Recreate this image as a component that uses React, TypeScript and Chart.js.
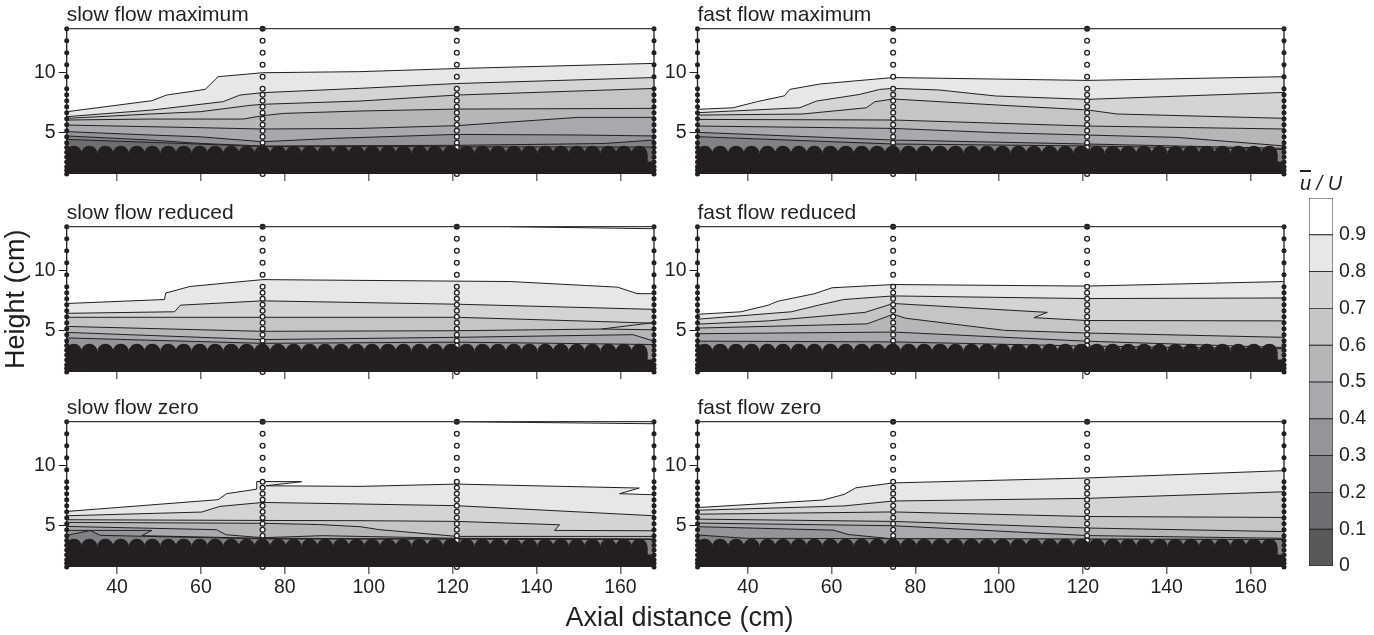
import React, { useEffect, useRef } from 'react';
import { Chart, registerables } from 'chart.js';

Chart.register(...registerables);

const FONT = "'Liberation Sans', Arial, Helvetica, sans-serif";
const INK = '#231f20';

// ---------- data ----------
const X_TICKS = [40, 60, 80, 100, 120, 140, 160];
const Y_TICKS = [5, 10];
const X_RANGE = [28, 168];
const Y_RANGE = [1.56, 13.67];

// colour bar (u/U classes)
const CB_TICKS = [0, 0.1, 0.2, 0.3, 0.4, 0.5, 0.6, 0.7, 0.8, 0.9];
const CB_LABELS = ['0', '0.1', '0.2', '0.3', '0.4', '0.5', '0.6', '0.7', '0.8', '0.9'];
const CB_STEP = 0.1;
const BAND_COLORS = ['#58595b', '#6d6e71', '#808285', '#939598', '#a7a9ac', '#b5b6b8', '#c4c5c7', '#d3d4d5', '#e6e7e8', '#ffffff'];

// measuring stations (cm) and probe heights (cm)
const EDGE_X = [28, 168];
const PROFILE_X = [74.7, 121];
const PROBE_Z = [13.67, 12.67, 11.67, 10.67, 9.67, 8.67, 8.17, 7.67, 7.17, 6.67, 6.17, 5.67, 5.17, 4.67, 4.17, 3.77, 3.37, 2.97, 2.57, 2.17, 1.87, 1.56];

// bed roughness (hemispheres)
const BED_X = [29.7, 33.4, 37.2, 40.9, 44.7, 48.4, 52.2, 55.9, 59.7, 63.4, 67.2, 70.9, 74.6, 78.4, 82.1, 85.9, 89.6, 93.4, 97.1, 100.8, 104.6, 108.3, 112.1, 115.8, 119.6, 123.3, 127.1, 130.8, 134.6, 138.3, 142.1, 145.8, 149.6, 153.3, 157.1, 160.8, 164.5];
const BED_CREST = 3.25;
const BED_BASE = [[28, 3.25], [166.5, 3.25], [166.5, 2.6], [168, 2.6]];

const PANEL_TITLES = ['slow flow maximum', 'fast flow maximum', 'slow flow reduced', 'fast flow reduced', 'slow flow zero', 'fast flow zero'];

// contour lines, levels 0.9, 0.8, 0.7 ... downward
const SLOW_MAX = [
  [[28, 6.75], [48.3, 7.67], [51.8, 8.14], [61, 8.61], [64.1, 9.67], [74.7, 10.0], [97.9, 10.09], [121, 10.35], [168, 10.78]],
  [[28, 6.34], [48.3, 6.89], [65.3, 7.59], [69.3, 8.14], [74.7, 8.34], [97.9, 8.7], [121, 9.1], [168, 9.6]],
  [[28, 6.2], [47.9, 6.56], [59.8, 6.75], [71.7, 7.28], [74.7, 7.37], [97.9, 7.64], [121, 8.14], [168, 8.69]],
  [[28, 6.06], [47.9, 6.14], [70.1, 6.14], [74.7, 6.42], [79.6, 6.61], [97.9, 6.81], [121, 6.97], [168, 7.03]],
  [[28, 5.64], [59.8, 5.42], [74.7, 5.31], [97.9, 5.36], [121, 5.59], [150, 6.28], [168, 6.28]],
  [[28, 5.09], [47.9, 4.81], [59.8, 4.66], [74.7, 4.25], [91.5, 4.53], [121, 4.86], [150, 4.81], [168, 4.73]],
  [[28, 4.73], [47.9, 4.39], [59.8, 4.11], [74.7, 3.89], [121, 3.95], [156, 4.1], [168, 4.39]],
  [[28, 4.44], [60, 4.05], [74.7, 3.85], [168, 3.8]],
];
const FAST_MAX = [
  [[28, 6.95], [36.5, 7.08], [42.1, 7.58], [48.8, 8.08], [50, 8.61], [57.2, 9.06], [74.7, 9.6], [99.7, 9.47], [121, 9.36], [168, 9.67]],
  [[28, 6.67], [52.4, 7.08], [56.4, 7.64], [66.7, 8.19], [71.5, 8.61], [74.7, 8.7], [85.7, 8.56], [99.2, 8.06], [121, 7.78], [168, 8.36]],
  [[28, 6.47], [53.1, 6.56], [68.3, 7.08], [70.3, 7.58], [74.7, 7.81], [100, 7.3], [121, 6.9], [128.2, 6.56], [168, 6.2]],
  [[28, 6.11], [74.7, 6.06], [121, 5.56], [168, 5.31]],
  [[28, 5.56], [74.7, 5.36], [100, 5.0], [142.5, 4.61], [168, 3.9]],
  [[28, 5.03], [74.7, 4.39], [121, 4.06], [168, 3.7]],
  [[28, 4.67], [74.7, 4.06], [121, 3.9], [168, 3.6]],
];
const SLOW_RED = [
  [[28, 7.27], [51.3, 7.6], [51.6, 8.14], [57.4, 8.69], [74.7, 9.26], [133.8, 9.1], [159.3, 8.63], [164, 8.09], [168, 8.09]],
  [[28, 6.45], [53.7, 6.58], [55.1, 7.13], [74.7, 7.49], [121, 7.21], [168, 6.78]],
  [[28, 6.12], [74.7, 6.12], [121, 6.12], [168, 5.63]],
  [[28, 5.36], [74.7, 4.95], [121, 5.0], [155.5, 5.14], [168, 5.08]],
  [[28, 4.86], [74.7, 4.26], [121, 4.45], [163, 4.67], [168, 4.13]],
  [[28, 4.4], [74.7, 3.95], [121, 4.05], [168, 3.85]],
];
const SLOW_RED_EXTRA = [
  [[133.8, 13.67], [168, 13.5]],
  [[155.5, 5.14], [168, 5.68]],
];
const FAST_RED = [
  [[28, 6.37], [38.4, 6.58], [44.9, 7.13], [47.2, 7.46], [56, 8.09], [60.1, 8.58], [74.7, 8.85], [120.8, 8.72], [168, 9.1]],
  [[28, 5.96], [50.4, 6.58], [56.9, 7.13], [62.9, 7.6], [74.7, 7.9], [120.8, 7.68], [168, 7.73]],
  [[28, 5.55], [44.9, 5.82], [68, 6.53], [74.7, 7.27], [111.5, 6.53], [108.3, 6.09], [120.8, 5.85], [168, 5.82]],
  [[28, 5.22], [68.5, 5.57], [74.7, 6.37], [77.7, 6.04], [101.3, 5.03], [120.8, 4.81], [168, 4.45]],
  [[28, 4.75], [74.7, 4.89], [120.8, 4.13], [168, 3.6]],
  [[28, 4.13], [74.7, 4.07], [120.8, 3.72], [168, 3.5]],
];
const SLOW_ZERO = [
  [[28, 6.19], [64.1, 7.17], [66.1, 7.67], [73.3, 8.05], [73.3, 8.69], [84, 8.67], [75.5, 8.33], [97.9, 8.28], [121, 8.47], [164.5, 8.14], [159.8, 7.67], [168, 7.58]],
  [[28, 5.83], [60.2, 6.14], [64.5, 6.61], [74.7, 6.94], [97.9, 6.81], [121, 6.67], [168, 5.83]],
  [[28, 5.5], [74.7, 5.44], [97.9, 5.42], [121, 5.36], [145.5, 5.08], [144.3, 4.61], [168, 4.58]],
  [[28, 5.28], [74.7, 5.2], [88, 5.1], [97.9, 4.92], [102.6, 4.67], [121, 4.11], [168, 4.11]],
  [[28, 4.94], [63.7, 4.67], [66, 4.25], [74.7, 4.0], [89, 4.17], [121, 3.95], [168, 3.9]],
  [[28, 4.61], [48.3, 4.61], [45.9, 4.17], [74.7, 3.95], [168, 3.85]],
  [[28, 4.19], [33.6, 4.6], [36, 4.2], [74.7, 3.9], [168, 3.85]],
];
const SLOW_ZERO_EXTRA = [
  [[121, 13.67], [168, 13.5]],
];
const FAST_ZERO = [
  [[28, 6.51], [57.9, 7.14], [63, 7.61], [65.8, 8.16], [74.7, 8.57], [121, 8.98], [168, 9.59]],
  [[28, 6.29], [63, 6.65], [74.7, 7.06], [121, 7.28], [168, 7.83]],
  [[28, 5.96], [74.7, 6.15], [121, 5.77], [168, 5.69]],
  [[28, 5.55], [74.7, 5.36], [121, 4.81], [168, 4.51]],
  [[28, 5.22], [74.7, 5.0], [121, 4.18], [168, 3.95]],
  [[28, 4.92], [60.5, 4.63], [64, 4.27], [74.7, 3.9], [168, 3.85]],
  [[28, 4.23], [39.5, 3.95], [168, 3.85]],
];

const PANEL_LINES = [SLOW_MAX, FAST_MAX, SLOW_RED, FAST_RED, SLOW_ZERO, FAST_ZERO];
const PANEL_EXTRAS = [[], [], SLOW_RED_EXTRA, [], SLOW_ZERO_EXTRA, []];

// ---------- layout ----------
const COLS = [
  { left: 0, width: 662, axisW: 66.7, padRight: 7 },
  { left: 662, width: 630, axisW: 35.5, padRight: 6.3 },
];
const ROW_TOPS = [0, 198, 393];

const toXY = (pts: number[][]) => pts.map(([x, y]) => ({ x, y }));

function panelConfig(idx: number) {
  const row = Math.floor(idx / 2);
  const col = idx % 2;
  const c = COLS[col];
  const lines = PANEL_LINES[idx];
  const datasets: any[] = [];

  lines.forEach((ln, i) => {
    datasets.push({
      data: toXY(ln),
      borderColor: INK,
      borderWidth: 1,
      pointRadius: 0,
      fill: 'start',
      backgroundColor: BAND_COLORS[8 - i],
      order: 100 - i,
    });
  });
  PANEL_EXTRAS[idx].forEach((ln) => {
    datasets.push({ data: toXY(ln), borderColor: INK, borderWidth: 1, pointRadius: 0, fill: false, order: 60 });
  });
  PROFILE_X.forEach((x) => {
    datasets.push({
      data: PROBE_Z.map((z) => ({ x, y: z })),
      showLine: false,
      pointRadius: 2.4,
      pointBorderWidth: 1.3,
      pointBorderColor: INK,
      pointBackgroundColor: PROBE_Z.map((_, i) => (i === 0 ? INK : '#ffffff')),
      order: 50,
      clip: false,
    });
  });
  datasets.push({
    data: toXY(BED_BASE),
    borderWidth: 0,
    pointRadius: 0,
    fill: 'start',
    backgroundColor: INK,
    borderColor: INK,
    order: 40,
  });
  datasets.push({
    data: BED_X.map((x) => ({ x, y: BED_CREST })),
    showLine: false,
    pointRadius: 8,
    pointHoverRadius: 8,
    pointBorderWidth: 0,
    pointBackgroundColor: INK,
    order: 30,
    clip: 0,
  });
  EDGE_X.forEach((x) => {
    datasets.push({
      data: PROBE_Z.map((z) => ({ x, y: z })),
      showLine: true,
      borderColor: INK,
      borderWidth: 1.3,
      pointRadius: 2.5,
      pointBorderWidth: 0,
      pointBackgroundColor: INK,
      order: 10,
      clip: false,
    });
  });
  datasets.push({
    data: [{ x: X_RANGE[0], y: Y_RANGE[1] }, { x: X_RANGE[1], y: Y_RANGE[1] }],
    borderColor: '#3a3a3a',
    borderWidth: 1.2,
    pointRadius: 0,
    order: 5,
    clip: false,
  });

  const tickFont = { family: FONT, size: 19.5 };
  return {
    type: 'line',
    data: { datasets },
    options: {
      animation: false,
      responsive: false,
      maintainAspectRatio: false,
      events: [],
      layout: { padding: { top: 2.2, left: 0, right: c.padRight, bottom: 0 } },
      plugins: {
        legend: { display: false },
        tooltip: { enabled: false },
        title: {
          display: true,
          text: PANEL_TITLES[idx],
          align: 'start',
          fullSize: false,
          color: INK,
          font: { family: FONT, size: 21, weight: 'normal', lineHeight: 1.2 },
          padding: { top: 0, bottom: 1.3 },
        },
      },
      scales: {
        x: {
          type: 'linear',
          min: X_RANGE[0],
          max: X_RANGE[1],
          afterBuildTicks: (s: any) => { s.ticks = X_TICKS.map((v) => ({ value: v })); },
          afterFit: (s: any) => { s.height = row === 2 ? 40 : 20; },
          ticks: { display: row === 2, autoSkip: false, maxRotation: 0, font: tickFont, color: INK, padding: 2 },
          grid: { drawOnChartArea: false, drawTicks: true, tickLength: 7, color: '#6d6e71', lineWidth: 1.5 },
          border: { display: false },
        },
        y: {
          type: 'linear',
          min: Y_RANGE[0],
          max: Y_RANGE[1],
          afterBuildTicks: (s: any) => { s.ticks = Y_TICKS.map((v) => ({ value: v })); },
          afterFit: (s: any) => { s.width = c.axisW; },
          ticks: { font: tickFont, color: INK, padding: 3 },
          grid: { drawOnChartArea: false, drawTicks: true, tickLength: 8, color: INK, lineWidth: 1 },
          border: { display: false },
          title: {
            display: row === 1 && col === 0,
            text: 'Height (cm)',
            color: INK,
            font: { family: FONT, size: 27, lineHeight: 1.2 },
            padding: { top: 0, bottom: 0 },
          },
        },
      },
    },
  };
}

function colorbarConfig() {
  return {
    type: 'bar',
    data: {
      labels: [''],
      datasets: CB_TICKS.map((_, i) => ({
        data: [CB_STEP],
        backgroundColor: BAND_COLORS[i],
        borderColor: INK,
        borderWidth: 0.8,
        borderSkipped: false,
        barPercentage: 1,
        categoryPercentage: 1,
      })),
    },
    options: {
      animation: false,
      responsive: false,
      maintainAspectRatio: false,
      events: [],
      layout: { padding: { top: 38, left: 17, right: 0, bottom: 25 } },
      plugins: {
        legend: { display: false },
        tooltip: { enabled: false },
        title: { display: false },
      },
      scales: {
        x: { display: false, stacked: true },
        y: {
          stacked: true,
          position: 'right',
          min: 0,
          max: 1,
          afterBuildTicks: (s: any) => { s.ticks = CB_TICKS.map((v) => ({ value: v })); },
          afterFit: (s: any) => { s.width = 41; },
          ticks: { callback: (_v: any, i: number) => CB_LABELS[i], font: { family: FONT, size: 19.5 }, color: INK, padding: 6 },
          grid: { display: false, drawTicks: false },
          border: { display: false },
        },
      },
    },
  };
}

function ChartCanvas({ make, left, top, width, height }: any) {
  const ref = useRef<HTMLCanvasElement | null>(null);
  useEffect(() => {
    if (!ref.current) return;
    const chart = new Chart(ref.current, make() as any);
    return () => chart.destroy();
  }, []);
  return (
    <canvas
      ref={ref}
      width={width}
      height={height}
      style={{ position: 'absolute', left, top, width, height, display: 'block' }}
    />
  );
}

export default function App() {
  return (
    <div style={{ position: 'fixed', left: 0, top: 0, width: 1374, height: 635, background: '#ffffff', fontFamily: FONT, overflow: 'hidden' }}>
      {PANEL_TITLES.map((_, idx) => {
        const row = Math.floor(idx / 2);
        const col = idx % 2;
        const c = COLS[col];
        return (
          <ChartCanvas
            key={idx}
            make={() => panelConfig(idx)}
            left={c.left}
            top={ROW_TOPS[row]}
            width={c.width}
            height={row === 2 ? 214 : 194}
          />
        );
      })}
      <ChartCanvas make={colorbarConfig} left={1292} top={160} width={82} height={431} />
      <div
        style={{
          position: 'absolute',
          left: 1271,
          width: 100,
          top: 171,
          lineHeight: '24px',
          textAlign: 'center',
          fontSize: 20,
          fontStyle: 'italic',
          color: INK,
          fontFamily: FONT,
          whiteSpace: 'nowrap',
        }}
      >
        <span style={{ textDecoration: 'overline' }}>u</span> / U
      </div>
      <div
        style={{
          position: 'absolute',
          left: 0,
          width: 1359,
          top: 602,
          lineHeight: '30px',
          textAlign: 'center',
          fontSize: 27,
          color: INK,
          fontFamily: FONT,
          whiteSpace: 'nowrap',
        }}
      >
        Axial distance (cm)
      </div>
    </div>
  );
}
